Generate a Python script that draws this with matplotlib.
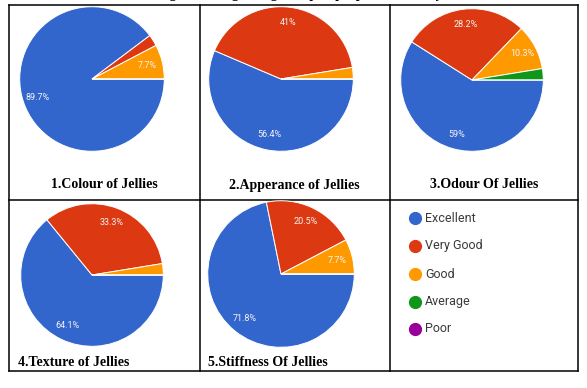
import matplotlib.pyplot as plt
from matplotlib.lines import Line2D

W, H = 587, 388

categories = ["Excellent", "Very Good", "Good", "Average", "Poor"]
colors = ["#3366cc", "#dc3912", "#ff9900", "#109618", "#990099"]

# responses per rating (39 respondents)
colour_vals = [35, 1, 3, 0, 0]
appearance_vals = [22, 16, 1, 0, 0]
odour_vals = [23, 11, 4, 1, 0]
texture_vals = [25, 13, 1, 0, 0]
stiffness_vals = [28, 8, 3, 0, 0]

titles = ["1.Colour of Jellies", "2.Apperance of Jellies", "3.Odour Of Jellies",
          "4.Texture of Jellies", "5.Stiffness Of Jellies"]

fig = plt.figure(figsize=(W / 100, H / 100), dpi=100)

# overlay axes in pixel coords for the table grid and text
bg = fig.add_axes([0, 0, 1, 1])
bg.set_xlim(0, W)
bg.set_ylim(H, 0)
bg.axis("off")

lw = 1.1
x0, x1, x2, x3 = 9, 199.5, 389.5, 578
y0, y1, y2 = 5, 200, 371
for x in [x0, x1, x2, x3]:
    bg.add_line(Line2D([x, x], [y0, y2], color="black", lw=lw))
for y in [y0, y1, y2]:
    bg.add_line(Line2D([x0, x3], [y, y], color="black", lw=lw))

# caption line above the table, cut off by the page edge like in the scan
bg.text(300, -1.8, "Fig. 2: Rating of organoleptic properties of Jelly", ha="center",
        va="baseline", family="Liberation Serif", fontsize=10, fontweight="bold")

serif = dict(family="Liberation Serif", fontweight="bold", fontsize=10, color="black")
bg.text((x0 + x1) / 2, 185, titles[0], ha="center", va="center", **serif)
bg.text((x1 + x2) / 2, 185, titles[1], ha="center", va="center", **serif)
bg.text((x2 + x3) / 2, 185, titles[2], ha="center", va="center", **serif)
bg.text(18, 363, titles[3], ha="left", va="center", **serif)
bg.text(208, 363, titles[4], ha="left", va="center", **serif)


def pct(p):
    return "%g%%" % round(p, 1) if p >= 5 else ""


def draw_pie(vals, cx, cy, r):
    ax = fig.add_axes([(cx - r) / W, 1 - (cy + r) / H, 2 * r / W, 2 * r / H])
    ax.pie(vals, colors=colors, startangle=0, counterclock=False,
           autopct=lambda p: pct(p), pctdistance=0.79,
           wedgeprops=dict(edgecolor="white", linewidth=0.7),
           textprops=dict(color="#f4f4f4", fontsize=6.5, family="Roboto"))
    ax.set_xlim(-1.01, 1.01)
    ax.set_ylim(-1.01, 1.01)
    ax.axis("off")


draw_pie(colour_vals, 92, 79, 73)
draw_pie(appearance_vals, 281, 79, 73)
draw_pie(odour_vals, 472, 80, 72)
draw_pie(texture_vals, 92, 275, 72)
draw_pie(stiffness_vals, 281, 274, 74)

# legend
leg_y = [218, 246, 274, 302, 329]
for name, c, y in zip(categories, colors, leg_y):
    bg.plot(415, y, "o", color=c, markersize=8.5)
    bg.text(425, y, name, ha="left", va="center", color="#3a3a3a",
            family="Roboto", fontsize=9)

fig.savefig("out.png", dpi=100)
